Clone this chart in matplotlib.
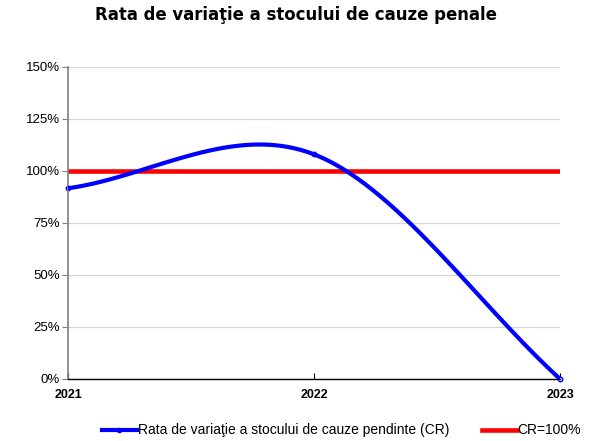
import numpy as np
import matplotlib.pyplot as plt
from matplotlib.ticker import FuncFormatter

# Date
ani = ['2021', '2022', '2023']
rata_cr = [91.7, 108.0, 0.0]
prag_cr = [100.0, 100.0, 100.0]


def netezire(x, y, n=60):
    # curba netezita ca in Excel (Bezier, tangente Catmull-Rom, capete reflectate)
    pts = np.column_stack([np.asarray(x, float), np.asarray(y, float)])
    ext = np.vstack([2 * pts[0] - pts[1], pts, 2 * pts[-1] - pts[-2]])
    out = []
    for i in range(len(pts) - 1):
        p0, p1, p2, p3 = ext[i], ext[i + 1], ext[i + 2], ext[i + 3]
        c1 = p1 + (p2 - p0) / 6.0
        c2 = p2 - (p3 - p1) / 6.0
        t = np.linspace(0, 1, n)[:, None]
        seg = ((1 - t) ** 3 * p1 + 3 * (1 - t) ** 2 * t * c1
               + 3 * (1 - t) * t ** 2 * c2 + t ** 3 * p2)
        out.append(seg if i == 0 else seg[1:])
    out = np.vstack(out)
    return out[:, 0], out[:, 1]


fig = plt.figure(figsize=(5.9, 4.41), dpi=100)
ax = fig.add_axes([0.1153, 0.1406, 0.8339, 0.7075])

xpos = np.arange(len(ani))
xs, ys = netezire(xpos, rata_cr)

ax.plot(xs, ys, color='#0000FF', linewidth=3, solid_capstyle='butt', zorder=3)
ax.plot(xpos, rata_cr, linestyle='none', marker='o', markersize=3.2,
        markerfacecolor='white', markeredgecolor='#0000FF', markeredgewidth=1.0,
        zorder=2.5, clip_on=False)
ax.plot(xpos, prag_cr, color='#FF0000', linewidth=3.3, zorder=2)

# legenda (linie + marker pentru seria albastra)
h1, = ax.plot([], [], color='#0000FF', linewidth=3, marker='o', markersize=3,
              markerfacecolor='#0000FF', markeredgecolor='#0000FF')
h2, = ax.plot([], [], color='#FF0000', linewidth=3.3)
fig.legend([h1, h2],
           ['Rata de variaţie a stocului de cauze pendinte (CR)', 'CR=100%'],
           loc='center', bbox_to_anchor=(0.579, 0.024), ncol=2, frameon=False,
           prop={'family': 'Liberation Sans', 'size': 10},
           handlelength=2.5, handletextpad=0.05, columnspacing=2.4,
           borderaxespad=0, borderpad=0)

ax.set_xlim(0, 2)
ax.set_ylim(0, 150)
ax.set_yticks(np.arange(0, 151, 25))
ax.yaxis.set_major_formatter(FuncFormatter(lambda v, p: f'{v:.0f}%'))
ax.set_xticks(xpos)
ax.set_xticklabels(ani, fontfamily='Liberation Sans', fontweight='bold', fontsize=9)
for lbl in ax.get_yticklabels():
    lbl.set_fontfamily('Liberation Sans')
    lbl.set_fontsize(9.5)

ax.grid(axis='y', color='#D6D6D6', linewidth=0.9)
ax.set_axisbelow(True)
for s in ['top', 'right']:
    ax.spines[s].set_visible(False)
ax.spines['left'].set_color('#808080')
ax.spines['left'].set_linewidth(1.2)
ax.spines['bottom'].set_color('black')
ax.spines['bottom'].set_linewidth(1.0)
ax.tick_params(axis='y', length=4, color='#808080', pad=2)
ax.tick_params(axis='x', direction='in', length=4, pad=7)

fig.text(0.161, 0.965, 'Rata de variaţie a stocului de cauze penale',
         fontsize=11.9, fontweight='bold', fontfamily='DejaVu Sans', va='center')

fig.savefig('out.png', dpi=100)
